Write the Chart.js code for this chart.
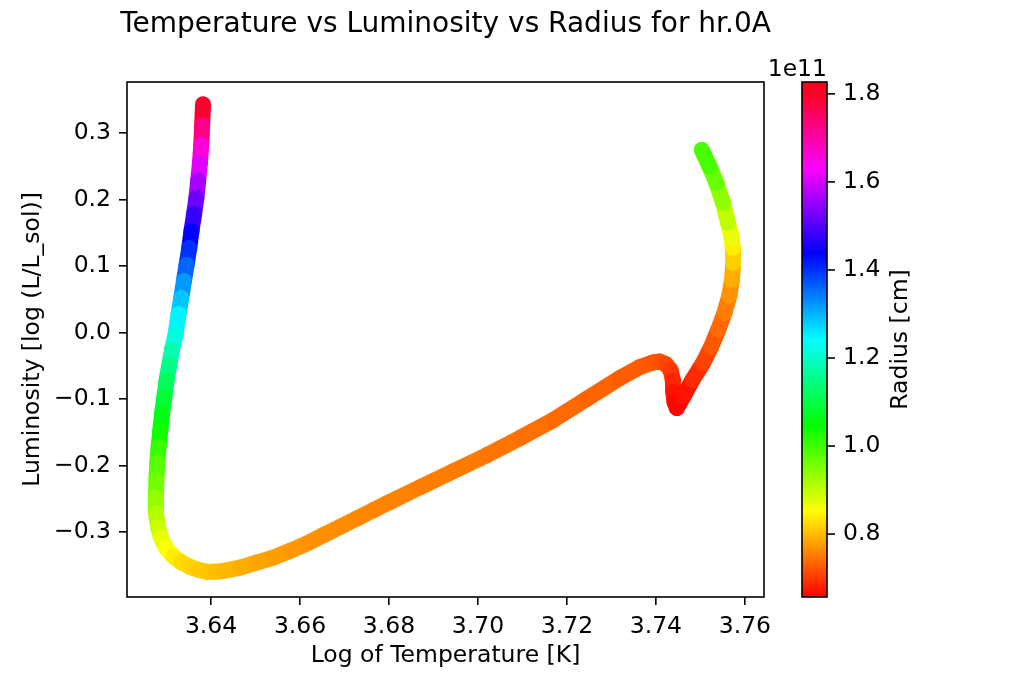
<!DOCTYPE html>
<html>
<head>
<meta charset="utf-8">
<title>Temperature vs Luminosity vs Radius for hr.0A</title>
<script src="https://cdn.jsdelivr.net/npm/chart.js@4"></script>
<style>
  html, body { margin: 0; padding: 0; background: #fff; }
  #wrap { width: 1023px; height: 682px; }
</style>
</head>
<body>
<div id="wrap"><canvas id="hr" width="1023" height="682"></canvas></div>
<script>
/* ── Track (start top-left, end top-right) ── */
const LOG_T = [
  3.6382, 3.6380, 3.6378, 3.6375, 3.6371, 3.6367, 3.6362, 3.6356, 3.6351, 3.6345,
  3.6339, 3.6333, 3.6327, 3.6320, 3.6312, 3.6306, 3.6300, 3.6295, 3.6290, 3.6286,
  3.6282, 3.6279, 3.6277, 3.6276, 3.6276, 3.6281, 3.6287, 3.6299, 3.6315, 3.6333,
  3.6353, 3.6371, 3.6390, 3.6409, 3.6428, 3.6465, 3.6501, 3.6540, 3.6578, 3.6615,
  3.6652, 3.6690, 3.6727, 3.6765, 3.6795, 3.6870, 3.6945, 3.7020, 3.7094, 3.7169,
  3.7244, 3.7319, 3.7364, 3.7393, 3.7409, 3.7422, 3.7433, 3.7438, 3.7439, 3.7442,
  3.7447, 3.7461, 3.7482, 3.7506, 3.7524, 3.7540, 3.7554, 3.7565, 3.7571, 3.7574,
  3.7573, 3.7570, 3.7562, 3.7551, 3.7536, 3.7521, 3.7503
];
const LOG_L = [
  0.3434, 0.3125, 0.2824, 0.2553, 0.2282, 0.2026, 0.1785, 0.1529, 0.1273, 0.1017,
  0.0776, 0.0520, 0.0279, -0.0038, -0.0264, -0.0489, -0.0715, -0.0971, -0.1212, -0.1468,
  -0.1724, -0.1965, -0.2221, -0.2477, -0.2718, -0.2929, -0.3080, -0.3245, -0.3366, -0.3456,
  -0.3527, -0.3569, -0.3599, -0.3599, -0.3587, -0.3536, -0.3464, -0.3386, -0.3283, -0.3175,
  -0.3050, -0.2925, -0.2801, -0.2673, -0.2572, -0.2327, -0.2086, -0.1845, -0.1589, -0.1318,
  -0.1002, -0.0685, -0.0520, -0.0452, -0.0437, -0.0474, -0.0565, -0.0715, -0.0896, -0.1047,
  -0.1137, -0.0971, -0.0715, -0.0459, -0.0218, 0.0038, 0.0294, 0.0550, 0.0791, 0.1047,
  0.1273, 0.1438, 0.1649, 0.1950, 0.2251, 0.2492, 0.2748
];
// radius in units of 1e11 cm
const RADIUS = [
  1.827, 1.76, 1.69, 1.63, 1.585, 1.545, 1.50, 1.46, 1.42, 1.38,
  1.34, 1.30, 1.27, 1.23, 1.20, 1.165, 1.13, 1.10, 1.075, 1.05,
  1.02, 0.99, 0.97, 0.95, 0.92, 0.90, 0.88, 0.86, 0.845, 0.83,
  0.82, 0.815, 0.81, 0.805, 0.80, 0.795, 0.785, 0.78, 0.775, 0.77,
  0.767, 0.764, 0.762, 0.76, 0.758, 0.755, 0.752, 0.748, 0.745, 0.74,
  0.735, 0.73, 0.727, 0.724, 0.722, 0.715, 0.705, 0.693, 0.678, 0.664,
  0.657, 0.663, 0.68, 0.70, 0.715, 0.73, 0.745, 0.76, 0.78, 0.80,
  0.83, 0.85, 0.885, 0.92, 0.955, 0.98, 1.005
];

const X_TICKS  = [3.64, 3.66, 3.68, 3.70, 3.72, 3.74, 3.76];
const Y_TICKS  = [-0.3, -0.2, -0.1, 0.0, 0.1, 0.2, 0.3];
const CB_TICKS = [0.8, 1.0, 1.2, 1.4, 1.6, 1.8];
const TITLE    = "Temperature vs Luminosity vs Radius for hr.0A";

const R_MIN = Math.min(...RADIUS);
const R_MAX = Math.max(...RADIUS);
const FONT  = "DejaVu Sans";
const FS    = 23.5;

Chart.defaults.font.family = FONT;
Chart.defaults.color = "#000";

/* ── hsv colormap ── */
function cmap(v) {
  const f = (v - R_MIN) / (R_MAX - R_MIN);
  const hue = Math.min(f * 360, 354);
  return `hsl(${hue.toFixed(1)}, 100%, 50%)`;
}

function fmt(v, d) {
  return (v < -1e-9 ? "\u2212" : "") + Math.abs(v).toFixed(d);
}

/* ── Plugins: axes frame + title, colorbar ── */
const frame = {
  id: "frame",
  afterDatasetsDraw(chart) {
    const { ctx, chartArea: a } = chart;
    ctx.save();
    ctx.strokeStyle = "#000";
    ctx.lineWidth = 1.6;
    ctx.strokeRect(a.left, a.top, a.right - a.left, a.bottom - a.top);
    // title centred over the axes, no width squeeze
    ctx.fillStyle = "#000";
    ctx.font = `28px '${FONT}'`;
    ctx.textAlign = "center";
    ctx.textBaseline = "middle";
    ctx.fillText(TITLE, (a.left + a.right) / 2, a.top - 57);
    ctx.restore();
  }
};

const colorbar = {
  id: "colorbar",
  afterDraw(chart) {
    const { ctx, chartArea: a, scales: { cb } } = chart;
    const left = a.right + 38, width = 25;
    const top = cb.getPixelForValue(R_MAX), bottom = cb.getPixelForValue(R_MIN);

    const grad = ctx.createLinearGradient(0, bottom, 0, top);
    for (let i = 0; i <= 36; i++) {
      const f = i / 36;
      grad.addColorStop(f, cmap(R_MIN + f * (R_MAX - R_MIN)));
    }
    ctx.save();
    ctx.fillStyle = grad;
    ctx.fillRect(left, top, width, bottom - top);
    ctx.strokeStyle = "#000";
    ctx.lineWidth = 1.6;
    ctx.strokeRect(left, top, width, bottom - top);

    ctx.font = `${FS}px '${FONT}'`;
    ctx.fillStyle = "#000";
    ctx.textAlign = "left";
    ctx.textBaseline = "middle";
    CB_TICKS.forEach(v => {
      const y = cb.getPixelForValue(v);
      ctx.beginPath();
      ctx.moveTo(left + width, y);
      ctx.lineTo(left + width + 8, y);
      ctx.stroke();
      ctx.fillText(fmt(v, 1), left + width + 16, y);
    });

    ctx.textAlign = "right";
    ctx.textBaseline = "alphabetic";
    ctx.fillText("1e11", left + width, top - 6);

    ctx.translate(left + width + 74, (top + bottom) / 2);
    ctx.rotate(-Math.PI / 2);
    ctx.textAlign = "center";
    ctx.textBaseline = "middle";
    ctx.fillText("Radius [cm]", 0, 0);
    ctx.restore();
  }
};

/* ── Chart ── */
const tickGrid = { drawOnChartArea: false, color: "#000", lineWidth: 1.6, tickLength: 8 };

new Chart(document.getElementById("hr"), {
  type: "scatter",
  data: {
    datasets: [{
      data: LOG_T.map((t, i) => ({ x: t, y: LOG_L[i] })),
      showLine: true,
      borderWidth: 16,
      borderCapStyle: "round",
      borderJoinStyle: "round",
      tension: 0,
      pointRadius: 0,
      borderColor: cmap(RADIUS[0]),
      segment: {
        borderColor: c => cmap((RADIUS[c.p0DataIndex] + RADIUS[c.p1DataIndex]) / 2)
      }
    }]
  },
  options: {
    responsive: false,
    animation: false,
    layout: { padding: { left: 0, right: 259, top: 82, bottom: 0 } },
    plugins: {
      legend: { display: false },
      tooltip: { enabled: false },
      title: { display: false }
    },
    scales: {
      x: {
        type: "linear",
        min: 3.6211, max: 3.7643,
        afterBuildTicks: s => { s.ticks = X_TICKS.map(v => ({ value: v })); },
        afterFit: s => { s.height = 85; },
        grid: tickGrid,
        border: { display: false },
        ticks: { padding: 8, font: { size: FS }, maxRotation: 0, callback: v => fmt(v, 2) },
        title: {
          display: true, text: "Log of Temperature [K]",
          font: { size: FS }, padding: { top: 0, bottom: 12 }
        }
      },
      y: {
        type: "linear",
        min: -0.3979, max: 0.3768,
        afterBuildTicks: s => { s.ticks = Y_TICKS.map(v => ({ value: v })); },
        afterFit: s => { s.width = 127; },
        grid: tickGrid,
        border: { display: false },
        ticks: { padding: 8, font: { size: FS }, callback: v => fmt(v, 1) },
        title: {
          display: true, text: "Luminosity [log (L/L_sol)]",
          font: { size: FS }, padding: { top: 19, bottom: 0 }
        }
      },
      cb: {
        type: "linear",
        display: false,
        position: "right",
        min: R_MIN, max: R_MAX
      }
    }
  },
  plugins: [frame, colorbar]
});
</script>
</body>
</html>
